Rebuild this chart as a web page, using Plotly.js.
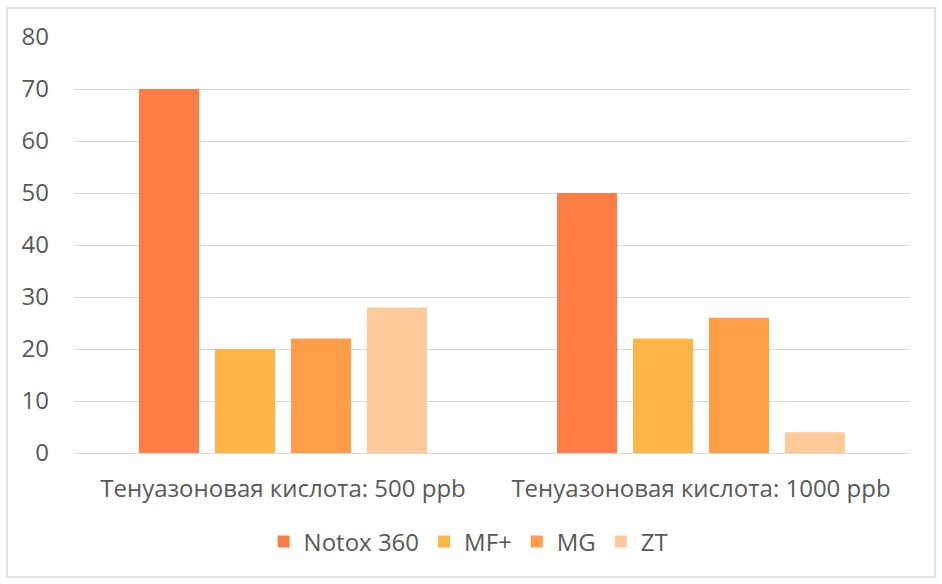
<!DOCTYPE html>
<html><head><meta charset="utf-8">
<script src="https://cdn.plot.ly/plotly-3.0.1.min.js"></script>
<style>html,body{margin:0;padding:0;background:#fff}#chart{width:942px;height:584px}</style>
</head><body><div id="chart"></div>
<script>
const categories = ["Тенуазоновая кислота: 500 ppb", "Тенуазоновая кислота: 1000 ppb"];
const seriesNames = ["Notox 360", "MF+", "MG", "ZT"];
const notox = [70, 50];
const mfPlus = [20, 22];
const mg = [22, 26];
const zt = [28, 4];
const colors = ["#FF7C46", "#FFB546", "#FF9E46", "#FFC999"];
const values = [notox, mfPlus, mg, zt];

const traces = values.map((v, i) => ({
  type: "bar", name: seriesNames[i], x: categories, y: v,
  marker: {color: colors[i], line: {color: colors[i], width: 0}},
  hoverinfo: "y"
}));

const layout = {
  width: 942, height: 584,
  margin: {l: 74, r: 32, t: 37, b: 131},
  paper_bgcolor: "#fff", plot_bgcolor: "#fff",
  font: {family: "Open Sans, sans-serif", size: 24, color: "#595959"},
  barmode: "group", bargap: 0.273, bargroupgap: 0.21,
  showlegend: true,
  legend: {orientation: "h", x: 0.472, xanchor: "center", y: -0.214, yanchor: "middle",
           font: {size: 24, color: "#595959"}, itemwidth: 30, traceorder: "normal"},
  xaxis: {showgrid: false, zeroline: false, showline: false, ticks: "",
          ticklabelstandoff: 19, tickfont: {size: 24, color: "#595959"}},
  yaxis: {range: [0, 80], dtick: 10, tick0: 0, showgrid: true, gridcolor: "#D9D9D9", gridwidth: 1,
          zeroline: true, zerolinecolor: "#D9D9D9", zerolinewidth: 1, showline: false, ticks: "",
          ticklabelstandoff: 24, tickfont: {size: 24, color: "#595959"}},
  shapes: [{type: "rect", xref: "paper", yref: "paper",
            x0: -0.0801, x1: 1.0299, y0: -0.298, y1: 1.0697,
            line: {color: "#D9D9D9", width: 1.5}, fillcolor: "rgba(0,0,0,0)", layer: "below"}]
};
Plotly.newPlot("chart", traces, layout, {displayModeBar: false, staticPlot: true});
</script></body></html>
